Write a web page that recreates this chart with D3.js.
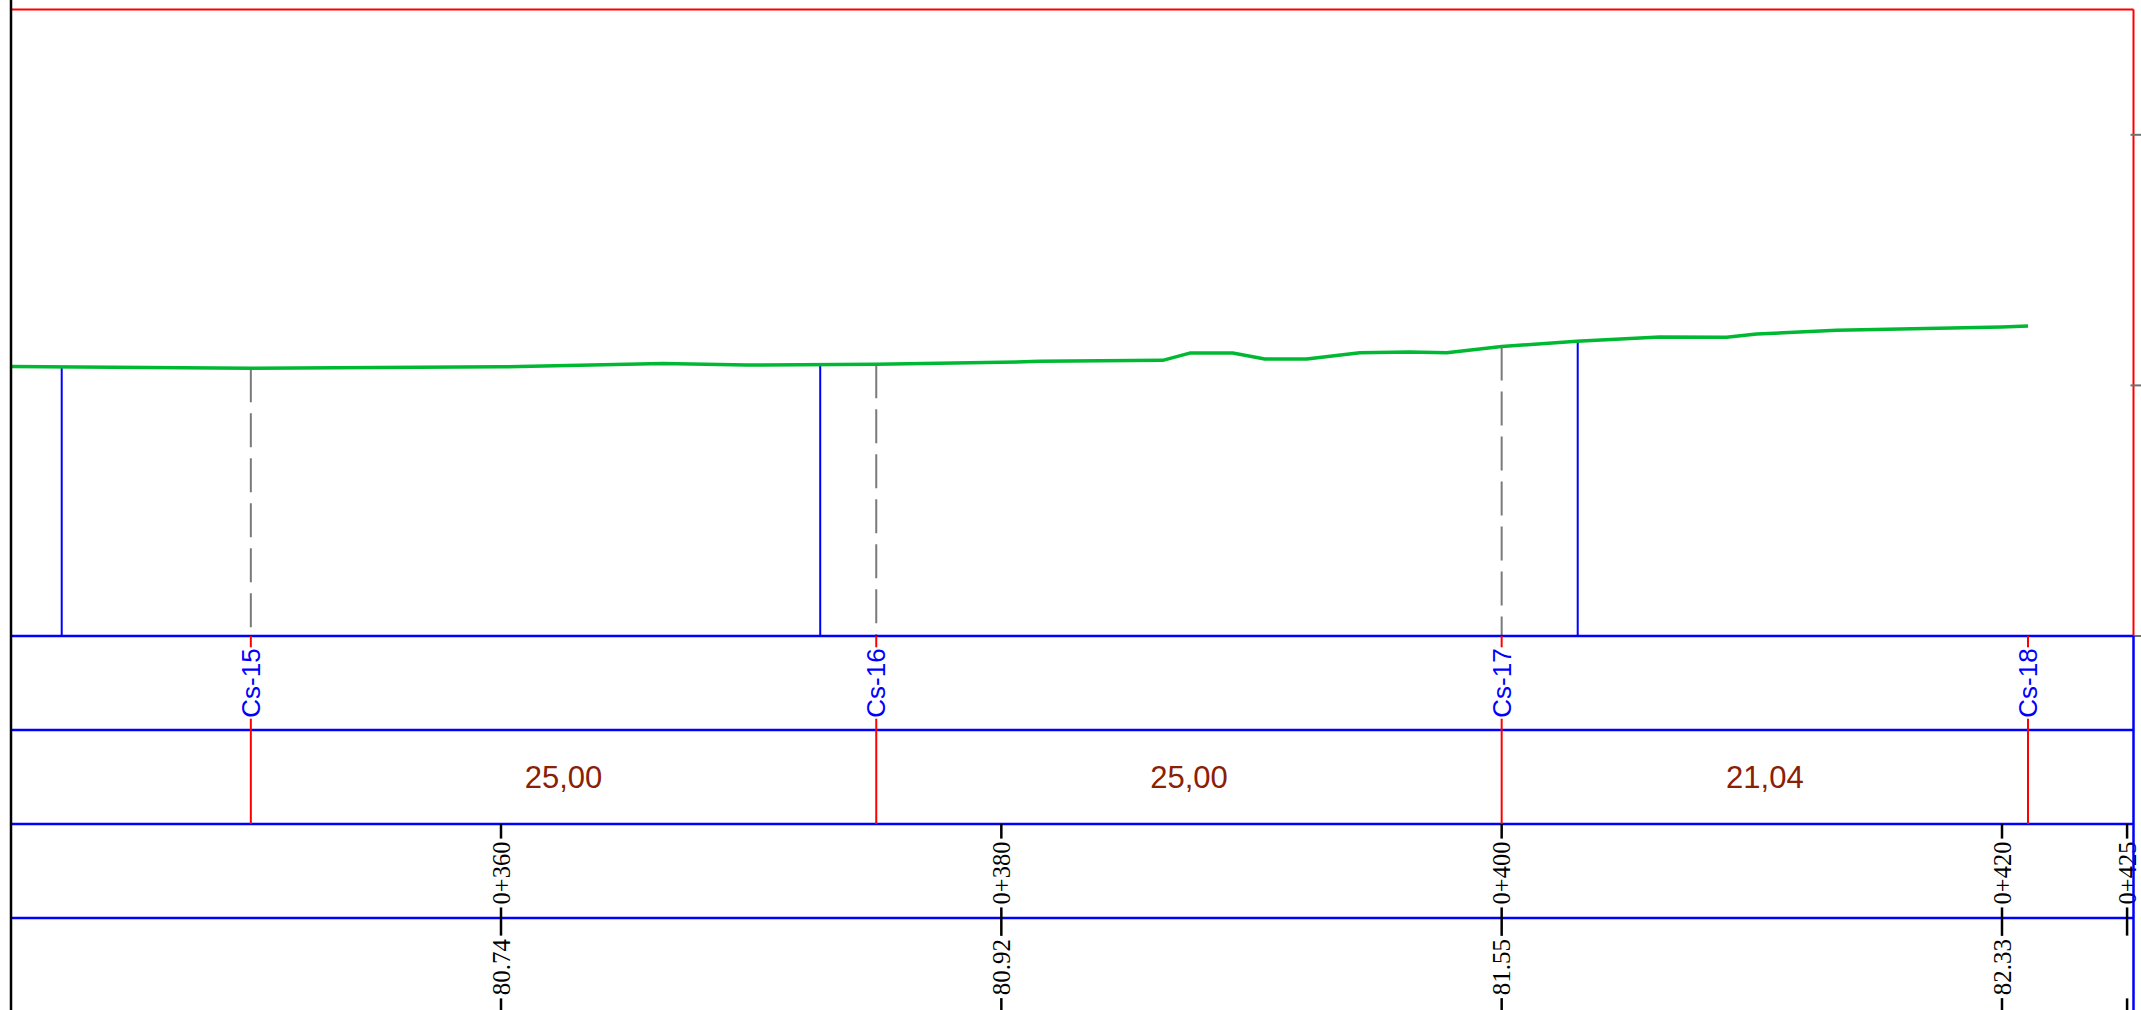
<!DOCTYPE html>
<html>
<head>
<meta charset="utf-8">
<script src="https://cdn.jsdelivr.net/npm/d3@7"></script>
<style>
  html, body { margin: 0; padding: 0; background: #fff; overflow: hidden; }
  svg { display: block; }
</style>
</head>
<body>
<div id="chart"></div>
<script>
// ground profile: chainage (m) and terrain elevation (m)
const groundStations = [340.42, 349.97, 360.00, 366.47, 369.83, 375.00, 380.00, 381.54, 386.45, 387.53, 389.25, 390.53, 392.21, 394.33, 396.32, 397.80, 400.00, 403.00, 406.31, 408.99, 410.19, 413.39, 420.00, 421.04];
const groundElev     = [80.75, 80.68, 80.74, 80.87, 80.81, 80.84, 80.92, 80.96, 81.00, 81.29, 81.29, 81.05, 81.05, 81.30, 81.33, 81.30, 81.55, 81.76, 81.93, 81.92, 82.05, 82.20, 82.33, 82.37];

// cross sections
const sectionNames    = ["Cs-15", "Cs-16", "Cs-17", "Cs-18"];
const sectionStations = [350.00, 375.00, 400.00, 421.04];

// blue marker verticals
const markerStations = [342.44, 372.76, 403.04];

// chainage ticks and the terrain elevation printed under them
const chainageTicks  = [360, 380, 400, 420, 425];
const chainageElev   = ["80.74", "80.92", "81.55", "82.33", ""];

// elevation ticks on the right frame
const elevTicks = [70, 80, 90];

const W = 2141, H = 1010;
const xLeft = 11, xRight = 2133.5;
const bandH = 94;

const x = d3.scaleLinear().domain([360, 420]).range([501, 2002]);
const y = d3.scaleLinear().domain([70, 95]).range([636, 9.5]);
const bandY = i => y(70) + i * bandH;

const svg = d3.select("#chart").append("svg")
    .attr("width", W)
    .attr("height", H);

// elevation of ground at any chainage (to end the verticals on the line)
let groundAt = s => {
    let i = d3.bisectLeft(groundStations, s);
    if (i <= 0) return groundElev[0];
    if (i >= groundStations.length) return groundElev[groundElev.length - 1];
    let s0 = groundStations[i-1], s1 = groundStations[i];
    let t = (s - s0) / (s1 - s0);
    return groundElev[i-1] + t * (groundElev[i] - groundElev[i-1]);
};

// vertical text with a white box behind it, so the line under it breaks
let vlabel = (cx, cy, txt, opts) => {
    let g = svg.append("g").attr("transform", `translate(${cx},${cy}) rotate(-90)`);
    let t = g.append("text")
        .attr("text-anchor", "middle")
        .attr("dy", "0.35em")
        .attr("font-family", opts.font)
        .attr("font-size", opts.size)
        .attr("fill", opts.color)
        .text(txt);
    let b = t.node().getBBox();
    let w = txt === "" ? opts.blankW : b.width;
    g.insert("rect", "text")
        .attr("x", -w/2 - opts.pad)
        .attr("y", -opts.size * 0.45)
        .attr("width", w + 2*opts.pad)
        .attr("height", opts.size * 0.9)
        .attr("fill", "#fff");
    return w;
};

// frame of the profile window
svg.append("line")
    .attr("x1", xLeft).attr("x2", xRight)
    .attr("y1", y(95)).attr("y2", y(95))
    .attr("stroke", "#ff0000").attr("stroke-width", 2);
svg.append("line")
    .attr("x1", xRight).attr("x2", xRight)
    .attr("y1", y(95)).attr("y2", y(70))
    .attr("stroke", "#ff0000").attr("stroke-width", 2);

svg.selectAll(".etick").data(elevTicks).enter()
    .append("line").attr("class", "etick")
    .attr("x1", xRight - 3).attr("x2", W + 5)
    .attr("y1", d => y(d)).attr("y2", d => y(d))
    .attr("stroke", "#707070").attr("stroke-width", 2);

// blue markers from the ground down to the datum
svg.selectAll(".marker").data(markerStations).enter()
    .append("line").attr("class", "marker")
    .attr("x1", d => x(d)).attr("x2", d => x(d))
    .attr("y1", d => y(groundAt(d))).attr("y2", y(70))
    .attr("stroke", "#0000ff").attr("stroke-width", 2);

// dashed section lines (only where there is ground beyond)
let lastGround = groundStations[groundStations.length - 1];
svg.selectAll(".csdash").data(sectionStations.filter(d => d < lastGround)).enter()
    .append("line").attr("class", "csdash")
    .attr("x1", d => x(d)).attr("x2", d => x(d))
    .attr("y1", d => y(groundAt(d))).attr("y2", y(70))
    .attr("stroke", "#7a7a7a").attr("stroke-width", 2)
    .attr("stroke-dasharray", "34,11");

// ground line
let line = d3.line()
    .x((d, i) => x(groundStations[i]))
    .y(d => y(d));
svg.append("path")
    .datum(groundElev)
    .attr("d", line)
    .attr("fill", "none")
    .attr("stroke", "#00b932")
    .attr("stroke-width", 3.5)
    .attr("stroke-linejoin", "round");

// band rows
svg.selectAll(".band").data([0, 1, 2, 3]).enter()
    .append("line").attr("class", "band")
    .attr("x1", xLeft).attr("x2", xRight)
    .attr("y1", d => bandY(d)).attr("y2", d => bandY(d))
    .attr("stroke", "#0000ff").attr("stroke-width", 2.5);

// section lines + names
sectionStations.forEach((s, i) => {
    svg.append("line")
        .attr("x1", x(s)).attr("x2", x(s))
        .attr("y1", bandY(0)).attr("y2", bandY(2))
        .attr("stroke", "#ff0000").attr("stroke-width", 2);
    vlabel(x(s), bandY(0) + bandH/2, sectionNames[i],
        {font: "'Liberation Sans', Arial, sans-serif", size: 26, color: "#0000ff", pad: 1});
});

// partial distances between sections
d3.pairs(sectionStations).forEach(([a, b]) => {
    svg.append("text")
        .attr("x", (x(a) + x(b)) / 2)
        .attr("y", bandY(1) + bandH/2)
        .attr("dy", "0.35em")
        .attr("text-anchor", "middle")
        .attr("font-family", "'Liberation Sans', Arial, sans-serif")
        .attr("font-size", 31)
        .attr("fill", "#8a2004")
        .text((b - a).toFixed(2).replace(".", ","));
});

// chainage ticks with labels
let fmtCh = s => Math.floor(s/1000) + "+" + d3.format("03d")(s % 1000);
let elevW = 0;
chainageTicks.forEach((s, i) => {
    svg.append("line")
        .attr("x1", x(s)).attr("x2", x(s))
        .attr("y1", bandY(2)).attr("y2", H)
        .attr("stroke", "#000").attr("stroke-width", 2.5);
    vlabel(x(s), bandY(2) + bandH/2 + 2, fmtCh(s),
        {font: "'Liberation Serif', 'Times New Roman', serif", size: 24.5, color: "#000", pad: 3});
    let w = vlabel(x(s), bandY(3) + bandH/2 + 2, chainageElev[i],
        {font: "'Liberation Serif', 'Times New Roman', serif", size: 25, color: "#000", pad: 3, blankW: elevW});
    if (!elevW) elevW = w;
});

// right border of the bands and left border of the sheet
svg.append("line")
    .attr("x1", xRight).attr("x2", xRight)
    .attr("y1", bandY(0)).attr("y2", H)
    .attr("stroke", "#0000ff").attr("stroke-width", 2.5);
svg.append("line")
    .attr("x1", xLeft).attr("x2", xLeft)
    .attr("y1", 0).attr("y2", H)
    .attr("stroke", "#000").attr("stroke-width", 2.5);
</script>
</body>
</html>
